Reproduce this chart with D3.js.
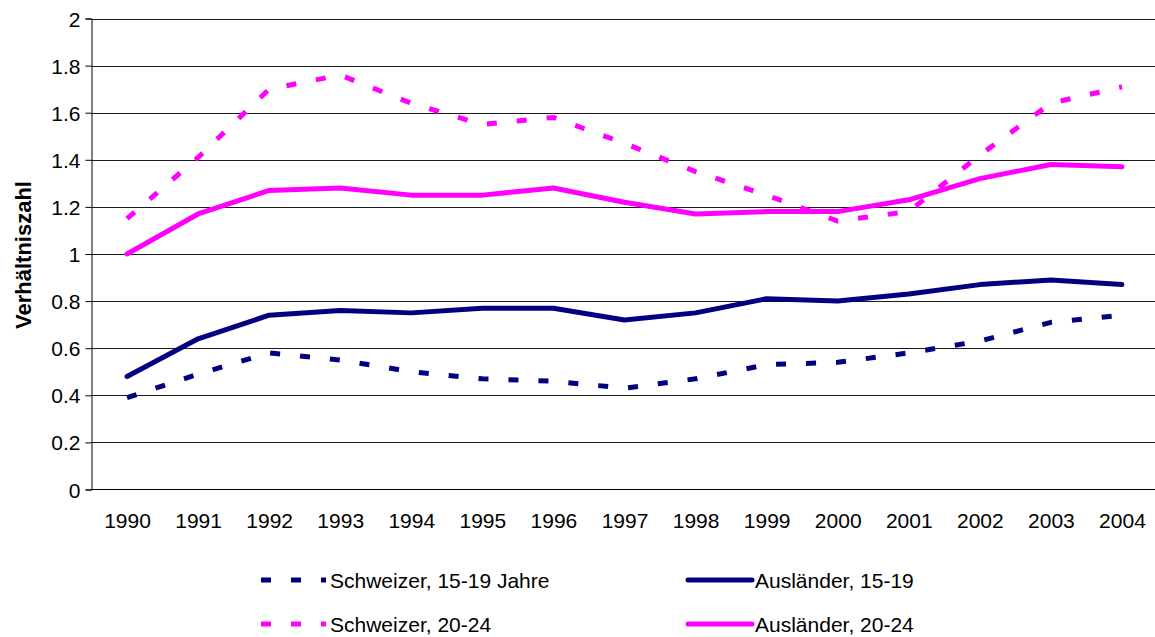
<!DOCTYPE html>
<html>
<head>
<meta charset="utf-8">
<script src="https://cdn.jsdelivr.net/npm/d3@7"></script>
<style>
  html, body { margin: 0; padding: 0; background: #fff; }
  svg { display: block; }
  text { font-family: "Liberation Sans", Arial, sans-serif; fill: #000; }
</style>
</head>
<body>
<svg id="chart" width="1155" height="637"></svg>
<script>
// Jahre (Kategorien der x-Achse)
const years = ["1990","1991","1992","1993","1994","1995","1996","1997","1998","1999","2000","2001","2002","2003","2004"];

// Verhältniszahlen je Gruppe
const schweizer1519 = [0.39, 0.49, 0.58, 0.55, 0.50, 0.47, 0.46, 0.43, 0.47, 0.53, 0.54, 0.58, 0.63, 0.71, 0.74];
const auslaender1519 = [0.48, 0.64, 0.74, 0.76, 0.75, 0.77, 0.77, 0.72, 0.75, 0.81, 0.80, 0.83, 0.87, 0.89, 0.87];
const schweizer2024 = [1.15, 1.41, 1.70, 1.76, 1.64, 1.55, 1.58, 1.47, 1.35, 1.25, 1.14, 1.18, 1.42, 1.64, 1.71];
const auslaender2024 = [1.00, 1.17, 1.27, 1.28, 1.25, 1.25, 1.28, 1.22, 1.17, 1.18, 1.18, 1.23, 1.32, 1.38, 1.37];

// Beschriftung der y-Achse
const yTicks = [0, 0.2, 0.4, 0.6, 0.8, 1, 1.2, 1.4, 1.6, 1.8, 2];
const yTitle = "Verhältniszahl";

const series = [
  { name: "Schweizer, 15-19 Jahre", values: schweizer1519, color: "#000080", dashed: true },
  { name: "Ausländer, 15-19", values: auslaender1519, color: "#000080", dashed: false },
  { name: "Schweizer, 20-24", values: schweizer2024, color: "#FF00FF", dashed: true },
  { name: "Ausländer, 20-24", values: auslaender2024, color: "#FF00FF", dashed: false }
];

const svg = d3.select("#chart");
const plot = { left: 91.5, right: 1157.5, top: 18.5, bottom: 489.5 };
const FONT = 21;
const DASH = "10,20";

const x = d3.scalePoint().domain(years).range([plot.left, plot.right]).padding(0.5);
const y = d3.scaleLinear().domain([0, 2]).range([plot.bottom, plot.top]);

// Gitterlinien
svg.append("g")
  .selectAll("line")
  .data(yTicks.filter(d => d > 0))
  .join("line")
  .attr("x1", plot.left).attr("x2", 1155)
  .attr("y1", d => Math.round(y(d)) + 0.5).attr("y2", d => Math.round(y(d)) + 0.5)
  .attr("stroke", "#1a1a1a").attr("stroke-width", 1);

// y-Achse
const yAxis = d3.axisLeft(y).tickValues(yTicks).tickFormat(d3.format("")).tickSize(6).tickPadding(5);
const gy = svg.append("g").attr("transform", `translate(${plot.left},0)`).call(yAxis);
gy.select(".domain").attr("stroke", "#000");
gy.selectAll(".tick line").attr("stroke", "#000");
gy.selectAll(".tick text").style("font-size", FONT + "px").attr("dy", "0.36em");

// x-Achse
const xAxis = d3.axisBottom(x).tickSize(0).tickPadding(24);
const gx = svg.append("g").attr("transform", `translate(0,${plot.bottom})`).call(xAxis);
gx.select(".domain").attr("stroke", "#000").attr("d", `M${plot.left},0H1155`);
gx.selectAll(".tick text").style("font-size", FONT + "px");

// Achsentitel
svg.append("text")
  .attr("transform", "translate(31,255) rotate(-90)")
  .attr("text-anchor", "middle")
  .style("font-size", "22px")
  .style("font-weight", "bold")
  .text(yTitle);

// Linien
const line = d3.line().x((d, i) => x(years[i])).y(d => y(d));
svg.append("g")
  .selectAll("path")
  .data(series)
  .join("path")
  .attr("d", d => line(d.values))
  .attr("fill", "none")
  .attr("stroke", d => d.color)
  .attr("stroke-width", 5)
  .attr("stroke-linejoin", "round")
  .attr("stroke-linecap", d => d.dashed ? "butt" : "round")
  .attr("stroke-dasharray", d => d.dashed ? DASH : null);

// Legende
const legendPos = [
  { x: 261, y: 580 }, { x: 688, y: 580 },
  { x: 261, y: 624 }, { x: 688, y: 624 }
];
const lg = svg.append("g").selectAll("g").data(series).join("g")
  .attr("transform", (d, i) => `translate(${legendPos[i].x},${legendPos[i].y})`);
lg.append("line")
  .attr("x1", 0).attr("x2", d => d.dashed ? 65 : 64)
  .attr("y1", 0).attr("y2", 0)
  .attr("stroke", d => d.color)
  .attr("stroke-width", 5)
  .attr("stroke-linecap", d => d.dashed ? "butt" : "round")
  .attr("stroke-dasharray", d => d.dashed ? DASH : null);
lg.append("text")
  .attr("x", d => d.dashed ? 69 : 67)
  .attr("dy", "0.36em")
  .style("font-size", FONT + "px")
  .text(d => d.name);
</script>
</body>
</html>
